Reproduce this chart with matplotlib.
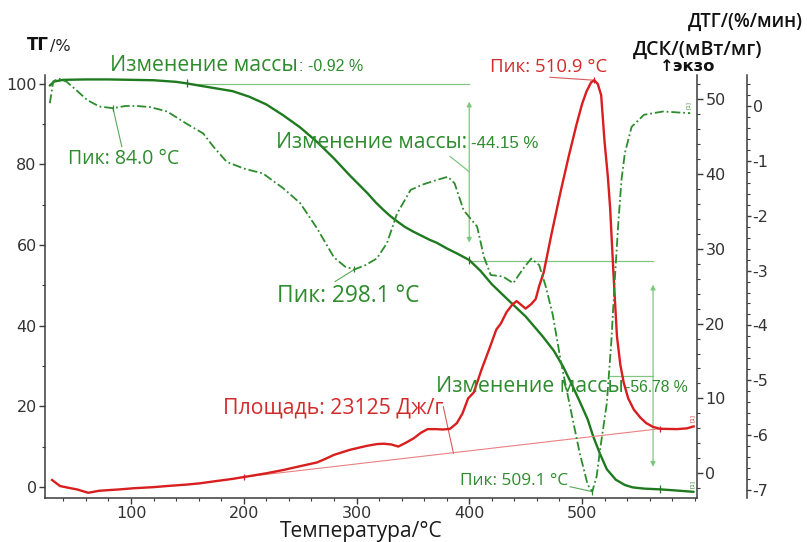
import numpy as np
import matplotlib
matplotlib.use("Agg")
import matplotlib.pyplot as plt
from matplotlib.ticker import MultipleLocator, FixedLocator

plt.rcParams['axes.unicode_minus'] = False

# ---------------- data ----------------
tg_temp = [28, 32, 40, 60, 80, 100, 120, 140, 150, 160, 175, 190, 205, 220, 235, 250,
           265, 280, 294, 310, 317, 324, 330, 336, 343, 350, 365, 371, 380, 390, 400,
           410, 420, 436, 450, 465, 475, 483, 490, 498, 505, 510, 516, 522, 530, 538,
           545, 555, 570, 585, 599]
tg_val = [99.6, 100.6, 101.0, 101.1, 101.1, 101.0, 100.9, 100.5, 100.1, 99.6, 98.9,
          98.2, 96.8, 94.9, 92.2, 89.2, 85.6, 81.5, 77.3, 72.8, 70.6, 68.7, 67.2, 65.9,
          64.5, 63.4, 61.3, 60.6, 59.2, 57.8, 56.3, 53.6, 50.3, 46.0, 42.3, 37.4, 33.8,
          30.0, 26.0, 21.2, 16.8, 12.5, 8.2, 4.4, 1.8, 0.5, -0.1, -0.4, -0.6, -0.9, -1.2]

dtg_temp = [28, 31, 36, 43, 52, 61, 72, 84, 95, 105, 117, 132, 149, 164, 173, 185,
            200, 217, 235, 250, 265, 280, 290, 298.1, 308, 318, 327, 336, 348, 359,
            371, 381, 387, 395, 401, 407, 413, 419, 430, 439, 448, 455, 462, 468, 474,
            481, 490, 498, 505, 509.1, 513, 516, 522, 526, 529, 532, 535, 538, 544,
            555, 572, 587, 596]
dtg_val = [0.05, 0.45, 0.50, 0.44, 0.28, 0.11, -0.01, -0.04, 0.0, 0.0, -0.02, -0.10,
           -0.32, -0.50, -0.74, -1.02, -1.14, -1.23, -1.50, -1.77, -2.23, -2.76, -2.93,
           -2.98, -2.90, -2.78, -2.50, -1.96, -1.53, -1.43, -1.35, -1.29, -1.41, -1.90,
           -2.05, -2.20, -2.75, -3.08, -3.11, -3.23, -2.96, -2.78, -2.90, -3.30, -3.80,
           -4.63, -5.54, -6.33, -6.90, -7.03, -6.75, -6.27, -5.42, -4.30, -3.20, -2.20,
           -1.35, -0.86, -0.38, -0.16, -0.10, -0.12, -0.13]

dsc_temp = [30, 37, 45, 52, 62, 72, 90, 102, 120, 132, 150, 161, 176, 190, 200, 220,
            235, 250, 265, 272, 280, 294, 309, 318, 324, 331, 337, 344, 351, 357, 363,
            370, 377, 383, 389, 394, 399, 404, 411, 417, 424, 428, 433, 438, 442, 446,
            450, 455, 459, 462, 466, 473, 481, 488, 495, 500, 504, 508, 510.9, 514, 517,
            520, 523, 525, 528, 531, 534, 537, 541, 546, 552, 557, 563, 569, 584, 593,
            599]
dsc_val = [-0.9, -1.7, -1.95, -2.15, -2.6, -2.33, -2.15, -2.0, -1.85, -1.7, -1.5,
           -1.34, -1.03, -0.75, -0.5, 0.0, 0.44, 0.95, 1.45, 1.9, 2.46, 3.13, 3.66,
           3.9, 3.95, 3.85, 3.57, 4.1, 4.7, 5.4, 5.9, 5.9, 5.85, 5.95, 6.7, 8.0, 10.0,
           10.8, 13.9, 16.3, 19.2, 20.0, 21.5, 22.5, 23.0, 22.5, 22.0, 22.6, 23.3, 25.0,
           26.8, 32.0, 37.6, 42.2, 46.5, 49.3, 51.0, 52.2, 52.5, 52.0, 50.5, 44.3, 39.5,
           35.3, 26.4, 18.3, 14.5, 12.1, 10.0, 8.5, 7.4, 6.7, 6.2, 5.95, 5.9, 6.0, 6.26]

dsc_base_temp = [200, 569]
dsc_base_val = [-0.5, 5.95]

x_ticks = [100, 200, 300, 400, 500]
tg_ticks = [0, 20, 40, 60, 80, 100]
dsc_ticks = [0, 10, 20, 30, 40, 50]
dtg_ticks = [0, -1, -2, -3, -4, -5, -6, -7]

dtg_peaks_t = [84.0, 298.1, 509.1]
dtg_peaks_v = [-0.04, -2.98, -7.03]
dsc_peak_t, dsc_peak_v = 510.9, 52.5
tg_marks_t = [150, 400, 569]
tg_marks_v = [100.1, 56.3, -0.6]

# ---------------- styling ----------------
W, H = 807, 542
C_TG = '#1f7a1f'
C_DTG = '#2d8c2d'
C_ANN = '#80c680'
C_TXT = '#2e8b2e'
C_RED = '#d81e1e'
C_RTXT = '#d22a2a'
C_BASE = '#e98080'
C_AX = '#3a3a3a'

fig = plt.figure(figsize=(W / 100, H / 100), dpi=100)
L, R, B, T = 45, 697, 498, 75
ax = fig.add_axes([L / W, 1 - B / H, (R - L) / W, (B - T) / H])
ax.set_xlim(23.7, 602.0)
ax.set_ylim(-2.73, 102.2)
ax_dsc = ax.twinx()
ax_dsc.set_ylim(-3.30, 53.2)
ax_dtg = ax.twinx()
ax_dtg.set_ylim(-7.146, 0.565)
ax_dtg.spines['right'].set_position(('axes', 1 + 50 / (R - L)))

for a in (ax, ax_dsc, ax_dtg):
    a.patch.set_visible(False)
    a.spines['top'].set_visible(False)
    for s in a.spines.values():
        s.set_color(C_AX)
        s.set_linewidth(1.1)
ax.spines['right'].set_visible(False)
for a in (ax_dsc, ax_dtg):
    a.spines['left'].set_visible(False)
    a.spines['bottom'].set_visible(False)

tick_font = dict(labelsize=11.5, labelcolor='#333333', color=C_AX)
ax.xaxis.set_major_locator(FixedLocator(x_ticks))
ax.xaxis.set_minor_locator(MultipleLocator(20))
ax.yaxis.set_major_locator(FixedLocator(tg_ticks))
ax.yaxis.set_minor_locator(MultipleLocator(10))
ax.tick_params(axis='both', which='major', direction='out', length=4, width=1, pad=2, **tick_font)
ax.tick_params(axis='both', which='minor', direction='out', length=2.5, width=0.8, color=C_AX)
ax.tick_params(axis='x', which='major', pad=1.5)

ax_dsc.yaxis.set_major_locator(FixedLocator(dsc_ticks))
ax_dsc.yaxis.set_minor_locator(MultipleLocator(2))
ax_dsc.tick_params(axis='y', which='major', direction='out', length=4, width=1, pad=2, **tick_font)
ax_dsc.tick_params(axis='y', which='minor', direction='out', length=2.5, width=0.8, color=C_AX)

ax_dtg.yaxis.set_major_locator(FixedLocator(dtg_ticks))
ax_dtg.yaxis.set_minor_locator(MultipleLocator(0.2))
ax_dtg.tick_params(axis='y', which='major', direction='out', length=3, width=1, pad=1, **tick_font)
ax_dtg.tick_params(axis='y', which='minor', direction='out', length=2, width=0.8, color=C_AX)

# ---------------- curves ----------------
ax.plot(tg_temp, tg_val, color=C_TG, lw=1.7, zorder=5, solid_capstyle='round',
        solid_joinstyle='round')
ax_dtg.plot(dtg_temp, dtg_val, color=C_DTG, lw=1.3, dashes=(5, 1.6, 1, 1.6), zorder=4)
ax_dsc.plot(dsc_base_temp, dsc_base_val, color=C_BASE, lw=0.8, zorder=3)
ax_dsc.plot(dsc_temp, dsc_val, color=C_RED, lw=1.7, zorder=5, solid_joinstyle='round')

# small markers
ax.plot(tg_marks_t, tg_marks_v, ls='none', marker='|', ms=6, mew=0.9, color=C_TG, zorder=6)
ax_dtg.plot(dtg_peaks_t, dtg_peaks_v, ls='none', marker='|', ms=5, mew=0.9, color=C_DTG, zorder=6)
ax_dsc.plot(dsc_base_temp, dsc_base_val, ls='none', marker='|', ms=5, mew=0.9, color=C_RED, zorder=6)
ax_dsc.plot([dsc_peak_t], [dsc_peak_v], ls='none', marker='|', ms=5, mew=0.9, color=C_RED, zorder=6)

# ---------------- annotation geometry ----------------
lk = dict(color=C_ANN, lw=0.9, zorder=2)
ax.plot([150, 400], [100, 100], **lk)
ax.plot([400, 563], [56.0, 56.0], **lk)
ax.plot([525, 563], [27.6, 27.6], **lk)
ax.plot([383, 400], [82.0, 78.2], **lk)
arr = dict(arrowstyle='<|-|>', color=C_ANN, lw=0.9, mutation_scale=7, shrinkA=0, shrinkB=0)
ax.annotate('', xy=(400, 60.6), xytext=(400, 95.6), arrowprops=arr, zorder=2)
ax.annotate('', xy=(563, 5.0), xytext=(563, 50.2), arrowprops=arr, zorder=2)

ax_dtg.plot([91.8, dtg_peaks_t[0]], [-0.74, dtg_peaks_v[0]], color='#5aa85a', lw=0.8)
ax_dtg.plot([281, dtg_peaks_t[1]], [-3.2, dtg_peaks_v[1]], color='#5aa85a', lw=0.8)
ax_dtg.plot([489.4, dtg_peaks_t[2]], [-6.94, dtg_peaks_v[2]], color='#5aa85a', lw=0.8)
ax_dsc.plot([471.6, dsc_peak_t], [52.9, dsc_peak_v], color='#d85a5a', lw=0.8)
ax_dsc.plot([377, 386], [8.9, 2.65], color='#d85a5a', lw=0.8)

# ---------------- texts ----------------
renderer = fig.canvas.get_renderer()


def fit_text(s, x0, x1, base, color, family, weight='normal'):
    t = fig.text(x0 / W, 1 - base / H, s, ha='left', va='baseline', fontsize=12,
                 color=color, family=family, weight=weight)
    w = t.get_window_extent(renderer).width
    t.set_fontsize(12 * (x1 - x0) / w)
    return t


def put_text(s, x0, base, color, family, size, weight='normal'):
    return fig.text(x0 / W, 1 - base / H, s, ha='left', va='baseline', fontsize=size,
                    color=color, family=family, weight=weight)


ANN_F = ['Open Sans', 'DejaVu Sans']
NUM_F = ['Liberation Sans', 'DejaVu Sans']
fit_text('Изменение массы', 110, 297, 71, C_TXT, ANN_F)
fit_text(': -0.92 %', 299, 363, 71, C_TXT, NUM_F)
fit_text('Изменение массы:', 276, 466, 148, C_TXT, ANN_F)
fit_text('-44.15 %', 471, 538, 148, C_TXT, NUM_F)
fit_text('Изменение массы', 436, 623, 392, C_TXT, ANN_F)
fit_text('-56.78 %', 625, 688, 392, C_TXT, NUM_F)

fit_text('Пик: 84.0 °C', 68, 180, 164, C_TXT, ANN_F)
fit_text('Пик: 298.1 °C', 277, 420, 302.5, C_TXT, ANN_F)
fit_text('Пик: 509.1 °C', 460, 568, 485, C_TXT, ANN_F)
fit_text('Пик: 510.9 °C', 490, 607, 71.5, C_RTXT, ANN_F)
fit_text('Площадь: 23125 Дж/г', 223, 443, 414, C_RTXT, ANN_F)

fit_text('Температура/°C', 280, 442, 537, '#1a1a1a', ANN_F)
put_text('ТГ', 27, 50.5, '#111111', ['DejaVu Sans'], 12, 'bold')
put_text('/%', 50, 50.5, '#222222', ['DejaVu Sans'], 11.5)
fit_text('ДТГ/(%/мин)', 688, 803, 27.3, '#111111', ['Open Sans', 'DejaVu Sans'], 'semibold')
fit_text('ДСК/(мВт/мг)', 633, 762, 55, '#111111', ['Open Sans', 'DejaVu Sans'], 'semibold')
fit_text('↑экзо', 660, 715, 71, '#111111', ['DejaVu Sans'], 'bold')

# tiny curve-end tags
for a, xe, ye, c in ((ax_dtg, dtg_temp[-1], dtg_val[-1], C_DTG),
                     (ax, tg_temp[-1], tg_val[-1], C_TG),
                     (ax_dsc, dsc_temp[-1], dsc_val[-1], C_RED)):
    a.annotate('[1]', xy=(xe, ye), xytext=(-3, 3), textcoords='offset points', fontsize=4,
               color=c, rotation=90, ha='left', va='bottom')

fig.savefig('out.png', dpi=100)
